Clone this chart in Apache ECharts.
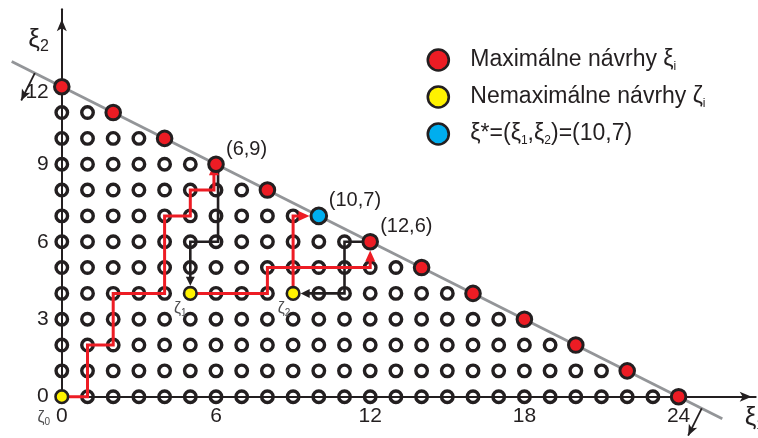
<!DOCTYPE html>
<html>
<head>
<meta charset="utf-8">
<script src="https://cdn.jsdelivr.net/npm/echarts@6.0.0/dist/echarts.min.js"></script>
<style>
  html, body { margin: 0; padding: 0; background: #ffffff; }
  #chart { width: 758px; height: 438px; }
</style>
</head>
<body>
<div id="chart"></div>
<script>
// ---------------- data ----------------
// Budget constraint ξ1 + 2·ξ2 ≤ 24: for each row ξ2 = 0..12, the largest admissible ξ1
const rowMaxX = [24, 22, 20, 18, 16, 14, 12, 10, 8, 6, 4, 2, 0];
const budget = 24;
const budgetWeights = [1, 2];
const budgetLineSpan = [-1.95, 25.7];     // ξ1 range of the drawn budget line
const normalArrowStarts = [-1.05, 24.9];  // ξ1 where the inward normals leave the line

const maximalPoints = [[0, 12], [2, 11], [4, 10], [6, 9], [8, 8], [12, 6], [14, 5], [16, 4], [18, 3], [20, 2], [22, 1], [24, 0]];
const optimumPoint = [10, 7];
const nonMaximalPoints = [[0, 0], [5, 4], [9, 4]];
const nonMaximalIndex = ['0', '1', '2'];
const annotatedPoints = [[6, 9], [10, 7], [12, 6]];

const xTickLabels = [0, 6, 12, 18, 24];
const yTickLabels = [0, 3, 6, 9, 12];

// improving moves (red) and moves back to a non-maximal design (black)
const ascentPaths = [
  [[0, 0], [1, 0], [1, 2], [2, 2], [2, 4], [4, 4], [4, 7], [5, 7], [5, 8], [5.92, 8], [5.92, 9]],
  [[5, 4], [8, 4], [8, 5], [12, 5], [12, 6]],
  [[9, 4], [9, 7], [10, 7]]
];
const descentPaths = [
  [[6.08, 9], [6.08, 6], [5, 6], [5, 4]],
  [[12, 6], [11, 6], [11, 4], [9, 4]]
];

const NAME_MAX = 'Maximálne návrhy ξi';
const NAME_NONMAX = 'Nemaximálne návrhy ζi';
const NAME_OPT = 'ξ*=(ξ1,ξ2)=(' + optimumPoint[0] + ',' + optimumPoint[1] + ')';

// ---------------- layout & style ----------------
const ORIGIN_PX = [61.8, 396.7];
const UNIT_PX = [25.7, 25.83];
const X_AXIS_MAX = 27;
const Y_AXIS_MAX = 15;
const CANVAS_H = 438;

const INK = '#231f20';
const RED = '#ed1c24';
const YELLOW = '#fff200';
const BLUE = '#00aeef';
const GREY = '#939598';
const FONT = "'Liberation Sans', Arial, Helvetica, sans-serif";

const R_RED = 8.8, R_YELLOW = 7.6, R_BLUE = 9.3;
const RED_HEAD = [10, 11];
const BLACK_HEAD = [9, 9];
const NORMAL_LEN = 36;
const NORMAL_HEAD = [7, 11];

const zetaLabelOffsets = [[-18, 21], [-10, 15], [-9, 15]];

// ---------------- helpers ----------------
const same = (a, b) => a[0] === b[0] && a[1] === b[1];
function targetRadius(p) {
  if (same(p, optimumPoint)) return R_BLUE;
  if (nonMaximalPoints.some(q => same(q, p))) return R_YELLOW;
  if (maximalPoints.some(q => same(q, p))) return R_RED;
  return 0;
}
// split a polyline into a body that stops short of its last vertex and a rotated head
function splitArrow(path, stopPx, headLen) {
  const n = path.length;
  const a = path[n - 2], b = path[n - 1];
  const dxp = (b[0] - a[0]) * UNIT_PX[0];
  const dyp = (b[1] - a[1]) * UNIT_PX[1];
  const len = Math.hypot(dxp, dyp);
  const t = (stopPx + headLen / 2) / len;
  const end = [b[0] - (b[0] - a[0]) * t, b[1] - (b[1] - a[1]) * t];
  const rot = Math.atan2(dyp, dxp) * 180 / Math.PI - 90;
  return { body: path.slice(0, n - 1).concat([end]), head: { value: end, symbolRotate: rot } };
}

// lattice of designs not otherwise highlighted
const highlighted = maximalPoints.concat(nonMaximalPoints, [optimumPoint]);
const latticePoints = [];
rowMaxX.forEach((xmax, y) => {
  for (let x = 0; x <= xmax; x++) {
    if (!highlighted.some(q => q[0] === x && q[1] === y)) latticePoints.push([x, y]);
  }
});

// budget line and its inward normals
const lineY = x => (budget - budgetWeights[0] * x) / budgetWeights[1];
const budgetLine = budgetLineSpan.map(x => [x, lineY(x)]);
const nLen = Math.hypot(budgetWeights[0] * UNIT_PX[0], budgetWeights[1] * UNIT_PX[1]);
const normals = normalArrowStarts.map(x => {
  const s = [x, lineY(x)];
  const ux = -budgetWeights[0] * UNIT_PX[0] / nLen, uy = -budgetWeights[1] * UNIT_PX[1] / nLen;
  return splitArrow([s, [s[0] + ux * NORMAL_LEN / UNIT_PX[0], s[1] + uy * NORMAL_LEN / UNIT_PX[1]]], 0, NORMAL_HEAD[1]);
});

const redArrows = ascentPaths.map(p => splitArrow(p, targetRadius(p[p.length - 1]), RED_HEAD[1]));
const blackArrows = descentPaths.map(p => splitArrow(p, targetRadius(p[p.length - 1]), BLACK_HEAD[1]));

const isAnnotated = p => annotatedPoints.some(q => same(q, p));
const coordLabel = {
  show: true, position: 'inside', align: 'left', verticalAlign: 'middle', offset: [10, -15],
  fontSize: 20, color: INK, fontFamily: FONT,
  formatter: p => '(' + p.value[0] + ',' + p.value[1] + ')'
};

const subRich = (size, lh) => ({ fontSize: size, lineHeight: lh, verticalAlign: 'bottom', fontFamily: FONT, color: INK });
const polyline = (coords, color, width, z) => ({
  type: 'lines', coordinateSystem: 'cartesian2d', polyline: true, data: [{ coords: coords }],
  lineStyle: { color: color, width: width, opacity: 1, join: 'miter', cap: 'butt', curveness: 0 },
  z: z, silent: true, clip: false
});

// ---------------- chart ----------------
const chart = echarts.init(document.getElementById('chart'), null, { renderer: 'canvas' });

const series = [];
series.push({
  type: 'scatter', name: 'lattice', data: latticePoints, symbol: 'circle', symbolSize: 11.5,
  itemStyle: { color: 'rgba(0,0,0,0)', borderColor: INK, borderWidth: 3.4, opacity: 1 },
  z: 2, silent: true, clip: false
});
series.push(polyline(budgetLine, GREY, 2.8, 3));
normals.forEach(a => series.push(polyline(a.body, INK, 1.8, 3)));
series.push({
  type: 'scatter', data: normals.map(a => a.head), symbol: 'arrow', symbolSize: NORMAL_HEAD,
  itemStyle: { color: INK, opacity: 1 }, z: 3, silent: true, clip: false
});
blackArrows.forEach(a => series.push(polyline(a.body, INK, 2.6, 4)));
series.push({
  type: 'scatter', data: blackArrows.map(a => a.head), symbol: 'triangle', symbolSize: BLACK_HEAD,
  itemStyle: { color: INK, opacity: 1 }, z: 4, silent: true, clip: false
});
redArrows.forEach(a => series.push(polyline(a.body, RED, 3, 5)));
series.push({
  type: 'scatter', data: redArrows.map(a => a.head), symbol: 'triangle', symbolSize: RED_HEAD,
  itemStyle: { color: RED, opacity: 1 }, z: 5, silent: true, clip: false
});
series.push({
  type: 'scatter', name: NAME_MAX, symbol: 'circle', symbolSize: 2 * R_RED - 3,
  data: maximalPoints.map(p => ({ value: p, label: isAnnotated(p) ? coordLabel : { show: false } })),
  itemStyle: { color: RED, borderColor: INK, borderWidth: 3, opacity: 1 },
  z: 6, silent: true, clip: false
});
series.push({
  type: 'scatter', name: NAME_NONMAX, symbol: 'circle', symbolSize: 2 * R_YELLOW - 2.6,
  data: nonMaximalPoints.map((p, i) => ({
    value: p, name: nonMaximalIndex[i],
    label: {
      show: true, position: 'inside', offset: zetaLabelOffsets[i],
      formatter: '{g|ζ}{s|' + nonMaximalIndex[i] + '}',
      rich: { g: { fontSize: 16, lineHeight: 20, fontFamily: FONT, color: '#4d4d4f' },
              s: { fontSize: 10, lineHeight: 8, verticalAlign: 'bottom', fontFamily: FONT, color: '#4d4d4f' } }
    }
  })),
  itemStyle: { color: YELLOW, borderColor: INK, borderWidth: 2.6, opacity: 1 },
  z: 6, silent: true, clip: false
});
series.push({
  type: 'scatter', name: NAME_OPT, symbol: 'circle', symbolSize: 2 * R_BLUE - 3,
  data: [{ value: optimumPoint, label: isAnnotated(optimumPoint) ? coordLabel : { show: false } }],
  itemStyle: { color: BLUE, borderColor: INK, borderWidth: 3, opacity: 1 },
  z: 6, silent: true, clip: false
});

const legendText = {};
legendText[NAME_MAX] = 'Maximálne návrhy ξ{sub|i}';
legendText[NAME_NONMAX] = 'Nemaximálne návrhy ζ{sub|i}';
legendText[NAME_OPT] = 'ξ*=(ξ{sub|1},ξ{sub|2})=(' + optimumPoint[0] + ',' + optimumPoint[1] + ')';

chart.setOption({
  animation: false,
  backgroundColor: '#ffffff',
  grid: {
    left: ORIGIN_PX[0],
    bottom: CANVAS_H - ORIGIN_PX[1],
    width: X_AXIS_MAX * UNIT_PX[0],
    height: Y_AXIS_MAX * UNIT_PX[1],
    containLabel: false,
    outerBoundsMode: 'none'
  },
  xAxis: {
    type: 'value', min: 0, max: X_AXIS_MAX,
    splitLine: { show: false }, axisTick: { show: false },
    axisLine: { show: true, onZero: true, symbol: ['none', 'arrow'], symbolSize: [7.5, 12], symbolOffset: [0, -4],
                lineStyle: { color: INK, width: 2 } },
    axisLabel: { customValues: xTickLabels, margin: 9, fontSize: 21, color: INK, fontFamily: FONT },
    name: '{g|ξ}{s|1}', nameLocation: 'end', nameGap: -11, nameMoveOverlap: false,
    nameTextStyle: { align: 'left', verticalAlign: 'top', padding: [7, 0, 0, 0],
      rich: { g: { fontSize: 26, lineHeight: 28, fontFamily: FONT, color: INK }, s: subRich(14, 10) } }
  },
  yAxis: {
    type: 'value', min: 0, max: Y_AXIS_MAX,
    splitLine: { show: false }, axisTick: { show: false },
    axisLine: { show: true, onZero: true, symbol: ['none', 'arrow'], symbolSize: [7.5, 12], symbolOffset: [0, -10],
                lineStyle: { color: INK, width: 2 } },
    axisLabel: {
      customValues: yTickLabels, margin: 13, fontSize: 21, color: INK, fontFamily: FONT,
      formatter: v => (v === yTickLabels[yTickLabels.length - 1] ? '{top|' + v + '}' : String(v)),
      rich: { top: { fontSize: 21, fontFamily: FONT, color: INK, padding: [11, 0, 0, 0] } }
    },
    name: '{g|ξ}{s|2}', nameLocation: 'end', nameGap: -31, nameMoveOverlap: false,
    nameTextStyle: { align: 'right', verticalAlign: 'middle', padding: [0, 13, 0, 0],
      rich: { g: { fontSize: 26, lineHeight: 28, fontFamily: FONT, color: INK }, s: subRich(16, 10) } }
  },
  legend: {
    orient: 'vertical', left: 426.5, top: 47, padding: 0, itemWidth: 21, itemHeight: 21, itemGap: 11,
    selectedMode: false, icon: 'circle',
    data: [
      { name: NAME_MAX, itemStyle: { color: RED, borderColor: INK, borderWidth: 2.6 } },
      { name: NAME_NONMAX, itemStyle: { color: YELLOW, borderColor: INK, borderWidth: 2.6 } },
      { name: NAME_OPT, itemStyle: { color: BLUE, borderColor: INK, borderWidth: 2.6 } }
    ],
    formatter: name => legendText[name],
    textStyle: { fontSize: 23, lineHeight: 26, color: INK, fontFamily: FONT, padding: [0, 0, 0, 16.5],
                 rich: { sub: subRich(12, 8) } }
  },
  series: series
});
</script>
</body>
</html>
